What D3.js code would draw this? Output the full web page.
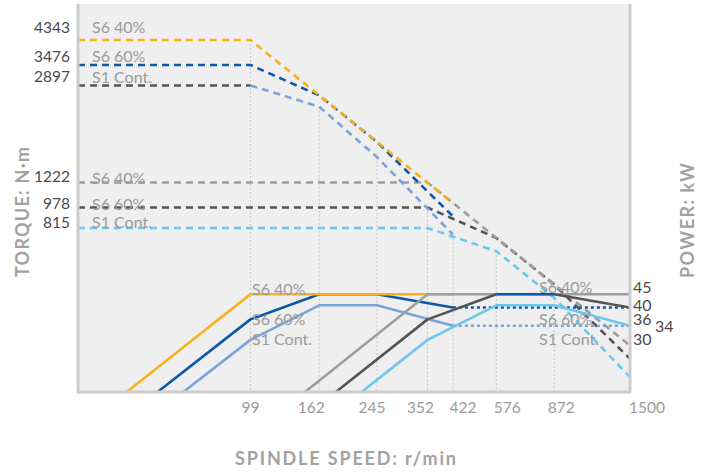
<!DOCTYPE html>
<html>
<head>
<meta charset="utf-8">
<script src="https://cdn.jsdelivr.net/npm/d3@7"></script>
<style>
  html, body { margin: 0; padding: 0; background: #ffffff; }
  svg { display: block; }
  text { font-family: Lato, "Noto Sans", sans-serif; }
</style>
</head>
<body>
<svg id="chart" width="713" height="475"></svg>
<script>
// ---- data ----
const speedTicks = [99, 162, 245, 352, 422, 576, 872, 1500];
const gridTopTorque = [4343, 2400, 1532, 978, 770, 663, 438];
const torqueTicks = [4343, 3476, 2897, 1222, 978, 815];
const powerTicks = [45, 40, 36, 34, 30];
const dutyNames = ["S6 40%", "S6 60%", "S1 Cont."];

// torque curves [speed r/min, torque N·m] — low-speed winding
const torqueS640Low = [[28.8, 4343], [99, 4343], [422, 1018]];
const torqueS660Low = [[28.8, 3476], [99, 3476], [162, 2652], [245, 1754], [422, 905]];
const torqueS1LowBase = [[28.8, 2897], [99, 2897]];
const torqueS1Low = [[99, 2897], [162, 2400], [245, 1532], [422, 770]];
// torque curves — high-speed winding
const torqueS640High = [[28.8, 1222], [352, 1222], [1500, 286.5]];
const torqueS660High = [[28.8, 978], [352, 978], [576, 746], [872, 493], [1500, 254.6]];
const torqueS1High = [[28.8, 815], [352, 815], [576, 663], [872, 438], [1500, 216.4]];

// power curves [speed r/min, power kW] — low-speed winding
const powerS640Low = [[40.8, 18.87], [99, 45], [422, 45]];
const powerS660Low = [[50.9, 18.87], [99, 36], [162, 45], [245, 45], [422, 40]];
const powerS660LowHold = [[422, 40], [1500, 40]];
const powerS1Low = [[61.2, 18.87], [99, 30], [162, 40.8], [245, 40.8], [422, 34]];
const powerS1LowHold = [[422, 34], [1500, 34]];
// power curves — high-speed winding
const powerS640High = [[146.3, 18.87], [352, 45], [1500, 45]];
const powerS660HighRise = [[182.5, 18.87], [352, 36], [576, 45]];
const powerS660HighPeak = [[576, 45], [872, 45]];
const powerS660HighFall = [[872, 45], [1500, 40]];
const powerS1High = [[219.4, 18.87], [352, 30], [576, 40.8], [872, 40.8], [1500, 34]];

// ---- styling ----
const C = {
  orange: "#f6b11c",
  blue: "#0b59a6",
  steel: "#7ba3da",
  grey: "#9e9e9e",
  dark: "#555555",
  sky: "#6cc6f0",
  bg: "#efefef",
  frame: "#cccccc",
  grid: "#c4c4c4",
  label: "#9b9b9b",
  value: "#4a4a4a",
  title: "#a2a2a2"
};

const plot = { left: 78, right: 630, top: 4, bottom: 392 };

const svg = d3.select("#chart");

const x = d3.scaleLog().domain([28.8, 1500]).range([plot.left, plot.right]);
const yT = d3.scaleLog().domain([189.5, 5982]).range([plot.bottom, plot.top]);
const yP = d3.scaleLog().domain([18.87, 595.4]).range([plot.bottom, plot.top]);

// plot background
svg.append("rect")
  .attr("x", plot.left).attr("y", plot.top)
  .attr("width", plot.right - plot.left).attr("height", plot.bottom - plot.top)
  .attr("fill", C.bg);

svg.append("defs").append("clipPath").attr("id", "plotClip")
  .append("rect")
  .attr("x", plot.left).attr("y", plot.top)
  .attr("width", plot.right - plot.left).attr("height", plot.bottom - plot.top);

// vertical dotted guides from the curve corners down to the speed axis
const guides = svg.append("g");
speedTicks.slice(0, gridTopTorque.length).forEach((s, i) => {
  guides.append("line")
    .attr("x1", x(s)).attr("x2", x(s))
    .attr("y1", yT(gridTopTorque[i])).attr("y2", plot.bottom)
    .attr("stroke", C.grid).attr("stroke-width", 1)
    .attr("stroke-dasharray", "2,2");
});

const curves = svg.append("g").attr("clip-path", "url(#plotClip)");

function draw(data, yScale, color, dash) {
  const line = d3.line().x(d => x(d[0])).y(d => yScale(d[1]));
  curves.append("path")
    .datum(data)
    .attr("d", line)
    .attr("fill", "none")
    .attr("stroke", color)
    .attr("stroke-width", 2.6)
    .attr("stroke-linejoin", "round")
    .attr("stroke-dasharray", dash || null);
}

const DASH = "7,5";
const DOT = "3,3";

// torque (dashed)
draw(torqueS1High, yT, C.sky, DASH);
draw(torqueS660High, yT, C.dark, DASH);
draw(torqueS640High, yT, C.grey, DASH);
draw(torqueS1LowBase, yT, C.dark, DASH);
draw(torqueS1Low, yT, C.steel, DASH);
draw(torqueS660Low, yT, C.blue, DASH);
draw(torqueS640Low, yT, C.orange, DASH);

// power (solid, dotted where held)
draw(powerS660LowHold, yP, C.blue, DOT);
draw(powerS1LowHold, yP, C.steel, DOT);
draw(powerS660Low, yP, C.blue);
draw(powerS1Low, yP, C.steel);
draw(powerS640Low, yP, C.orange);
draw(powerS640High, yP, C.grey);
draw(powerS660HighRise, yP, C.dark);
draw(powerS660HighFall, yP, C.dark);
draw(powerS660HighPeak, yP, C.blue);
draw(powerS1High, yP, C.sky);

// frame: left, right and bottom
const frame = svg.append("g").attr("stroke", C.frame).attr("stroke-width", 3);
frame.append("line").attr("x1", plot.left).attr("x2", plot.left).attr("y1", plot.top).attr("y2", plot.bottom + 1.5);
frame.append("line").attr("x1", plot.right).attr("x2", plot.right).attr("y1", plot.top).attr("y2", plot.bottom + 1.5);
frame.append("line").attr("x1", plot.left).attr("x2", plot.right).attr("y1", plot.bottom).attr("y2", plot.bottom);

// speed axis labels
const tickShift = { 99: 0, 162: -8, 245: -5, 352: -7, 422: 10, 576: 11, 872: 7, 1500: 17 };
svg.append("g").selectAll("text")
  .data(speedTicks)
  .join("text")
  .attr("x", d => x(d) + tickShift[d])
  .attr("y", 413)
  .attr("text-anchor", "middle")
  .attr("font-size", 15.5)
  .attr("fill", C.label)
  .text(d => d);

// torque values at the left
const torqueShift = [-7.3, -3.5, -3, -0.6, 1.6, 0];
svg.append("g").selectAll("text")
  .data(torqueTicks)
  .join("text")
  .attr("x", 70)
  .attr("y", (d, i) => yT(d) + torqueShift[i])
  .attr("text-anchor", "end")
  .attr("font-size", 15.5)
  .attr("fill", C.value)
  .text(d => d);

// power values at the right
const powerPos = [[633, -1], [633, 3.3], [633, 5.6], [655, 5.7], [633, 5.2]];
svg.append("g").selectAll("text")
  .data(powerTicks)
  .join("text")
  .attr("x", (d, i) => powerPos[i][0])
  .attr("y", (d, i) => yP(d) + powerPos[i][1])
  .attr("font-size", 16)
  .attr("fill", C.value)
  .text(d => d);

// duty-cycle labels
const dutyText = svg.append("g").attr("font-size", 16).attr("fill", C.label);
function duty(names, xPos, anchors) {
  names.forEach((n, i) => {
    dutyText.append("text")
      .attr("x", xPos)
      .attr("y", anchors[i][0](anchors[i][1]) + anchors[i][2])
      .text(n);
  });
}
duty(dutyNames, 92, [[yT, 4343, -6.7], [yT, 3476, -3.3], [yT, 2897, -2.4]]);
duty(dutyNames, 92, [[yT, 1222, 1.7], [yT, 978, 2.6], [yT, 815, 0.3]]);
duty(dutyNames, 252, [[yP, 45, 0.7], [yP, 36, 5.6], [yP, 30, 5.2]]);
duty(dutyNames, 539, [[yP, 45, -1], [yP, 36, 5.6], [yP, 30, 5.2]]);

// axis titles
const titleStyle = sel => sel
  .attr("font-family", "'Open Sans', Lato, sans-serif")
  .attr("font-weight", "bold")
  .attr("font-size", 18)
  .attr("fill", C.title)
  .attr("lengthAdjust", "spacing");

svg.append("text").call(titleStyle)
  .attr("x", 235).attr("y", 465)
  .attr("textLength", 221)
  .text("SPINDLE SPEED: r/min");

svg.append("text").call(titleStyle)
  .attr("transform", "translate(29,277) rotate(-90)")
  .attr("textLength", 130)
  .text("TORQUE: N·m");

svg.append("text").call(titleStyle)
  .attr("transform", "translate(694,278) rotate(-90)")
  .attr("textLength", 115)
  .text("POWER: kW");
</script>
</body>
</html>
